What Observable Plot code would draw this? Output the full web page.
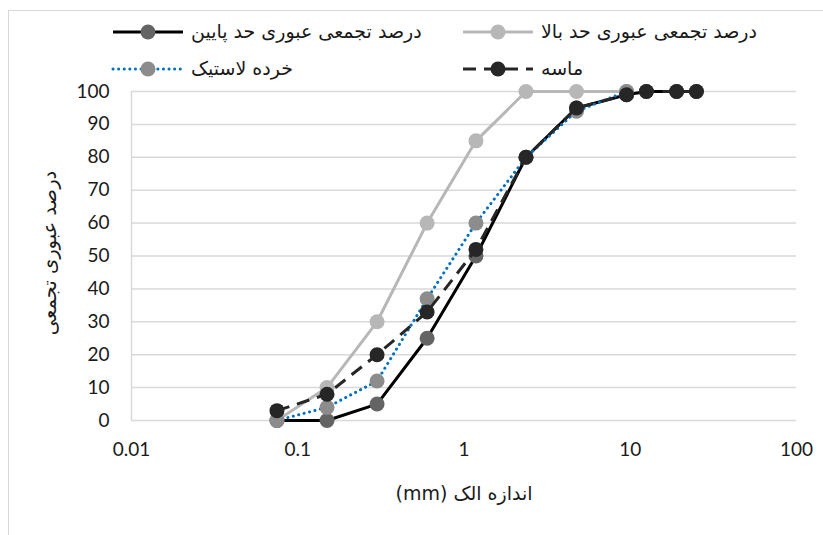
<!DOCTYPE html>
<html>
<head>
<meta charset="utf-8">
<script src="https://cdn.jsdelivr.net/npm/d3@7"></script>
<script src="https://cdn.jsdelivr.net/npm/@observablehq/plot@0.6"></script>
<style>
  html, body { margin: 0; padding: 0; background: #fff; }
  body { width: 823px; height: 535px; position: relative; overflow: hidden; }
  #frame { position: absolute; left: 8px; top: 10px; width: 900px; height: 600px;
           border-left: 1.5px solid #d9d9d9; border-top: 1.5px solid #d9d9d9; pointer-events: none; }
  #legend { display: block; }
  #chart svg { display: block; }
</style>
</head>
<body>
<div id="frame"></div>
<svg id="legend" width="823" height="80"></svg>
<div id="chart"></div>
<script>
// ---- data ----
const sieveSizes = [0.075, 0.15, 0.3, 0.6, 1.18, 2.36, 4.75, 9.5, 12.5, 19, 25];
const upperLimit = [0, 10, 30, 60, 85, 100, 100, 100];
const lowerLimit = [0, 0, 5, 25, 50, 80, 95, 99, 100, 100, 100];
const crumbRubber = [0, 4, 12, 37, 60, 80, 94, 100];
const sand = [3, 8, 20, 33, 52, 80, 95, 99, 100, 100, 100];

const seriesNames = ["درصد تجمعی عبوری حد بالا", "درصد تجمعی عبوری حد پایین", "خرده لاستیک", "ماسه"];
const xTicks = [0.01, 0.1, 1, 10, 100];
const xTickLabels = ["0.01", "0.1", "1", "10", "100"];
const yTicks = [0, 10, 20, 30, 40, 50, 60, 70, 80, 90, 100];
const xTitle = "اندازه الک (mm)";
const yTitle = "درصد عبوری تجمعی";

// ---- styles ----
const styles = [
  {line: "#b7b7b7", marker: "#b7b7b7", dash: null, cap: "butt"},
  {line: "#000000", marker: "#646464", dash: null, cap: "butt"},
  {line: "#0070c0", marker: "#8c8c8c", dash: "0.1,5.5", cap: "round"},
  {line: "#262626", marker: "#262626", dash: "13,8", cap: "butt"}
];
const seriesValues = [upperLimit, lowerLimit, crumbRubber, sand];
const persianFont = "DejaVu Sans";
const numFont = "Lato";
const rtl = (s) => "\u202B" + s + "\u202C";

const toRows = (vals) => vals.map((v, i) => ({x: sieveSizes[i], y: v}));

const marks = [
  Plot.gridY(yTicks, {stroke: "#d9d9d9", strokeOpacity: 1, strokeWidth: 1.5}),
  Plot.ruleX([0.01], {stroke: "#d9d9d9", strokeWidth: 1.5}),
  Plot.axisY(yTicks, {tickSize: 0, tickPadding: 22, fontSize: 19, fontFamily: numFont, fill: "#1a1a1a", label: null}),
  Plot.axisX(xTicks, {tickSize: 0, tickPadding: 22, fontSize: 19, fontFamily: numFont, fill: "#1a1a1a", label: null,
    tickFormat: (d) => xTickLabels[xTicks.indexOf(d)]}),
  Plot.text([rtl(xTitle)], {frameAnchor: "bottom", textAnchor: "middle", dy: 73, lineAnchor: "middle", fontSize: 19, fontFamily: persianFont, fill: "#1a1a1a"}),
  Plot.text([rtl(yTitle)], {frameAnchor: "left", textAnchor: "middle", dx: -82, dy: -3, rotate: -90, lineAnchor: "middle", fontSize: 19.5, fontFamily: persianFont, fill: "#1a1a1a"})
];
seriesValues.forEach((vals, k) => {
  const s = styles[k];
  marks.push(Plot.line(toRows(vals), {x: "x", y: "y", stroke: s.line, strokeWidth: 3,
    strokeDasharray: s.dash, strokeLinecap: s.cap, strokeLinejoin: "round"}));
  marks.push(Plot.dot(toRows(vals), {x: "x", y: "y", r: 7.5, fill: s.marker, stroke: "none"}));
});

const chart = Plot.plot({
  width: 823,
  height: 455,
  marginLeft: 131,
  marginRight: 27,
  marginTop: 11,
  marginBottom: 115,
  style: {background: "transparent", overflow: "visible"},
  x: {type: "log", domain: [0.01, 100], axis: null, label: null},
  y: {domain: [0, 100], axis: null, label: null},
  marks
});
document.getElementById("chart").appendChild(chart);

// ---- legend ----
const lg = d3.select("#legend");
const legendPos = [
  {sx: 463, y: 32}, // upper
  {sx: 113, y: 32}, // lower
  {sx: 113, y: 69}, // crumb
  {sx: 463, y: 69}  // sand
];
seriesNames.forEach((name, k) => {
  const s = styles[k], p = legendPos[k];
  const g = lg.append("g");
  g.append("line").attr("x1", p.sx).attr("x2", p.sx + 70).attr("y1", p.y).attr("y2", p.y)
    .attr("stroke", s.line).attr("stroke-width", 3)
    .attr("stroke-dasharray", s.dash)
    .attr("stroke-linecap", s.cap);
  g.append("circle").attr("cx", p.sx + 35).attr("cy", p.y).attr("r", 7.5).attr("fill", s.marker);
  g.append("text").attr("x", p.sx + 78).attr("y", p.y).attr("dy", "0.32em")
    .attr("font-family", persianFont).attr("font-size", 19).attr("fill", "#1a1a1a")
    .text(name);
});
</script>
</body>
</html>
